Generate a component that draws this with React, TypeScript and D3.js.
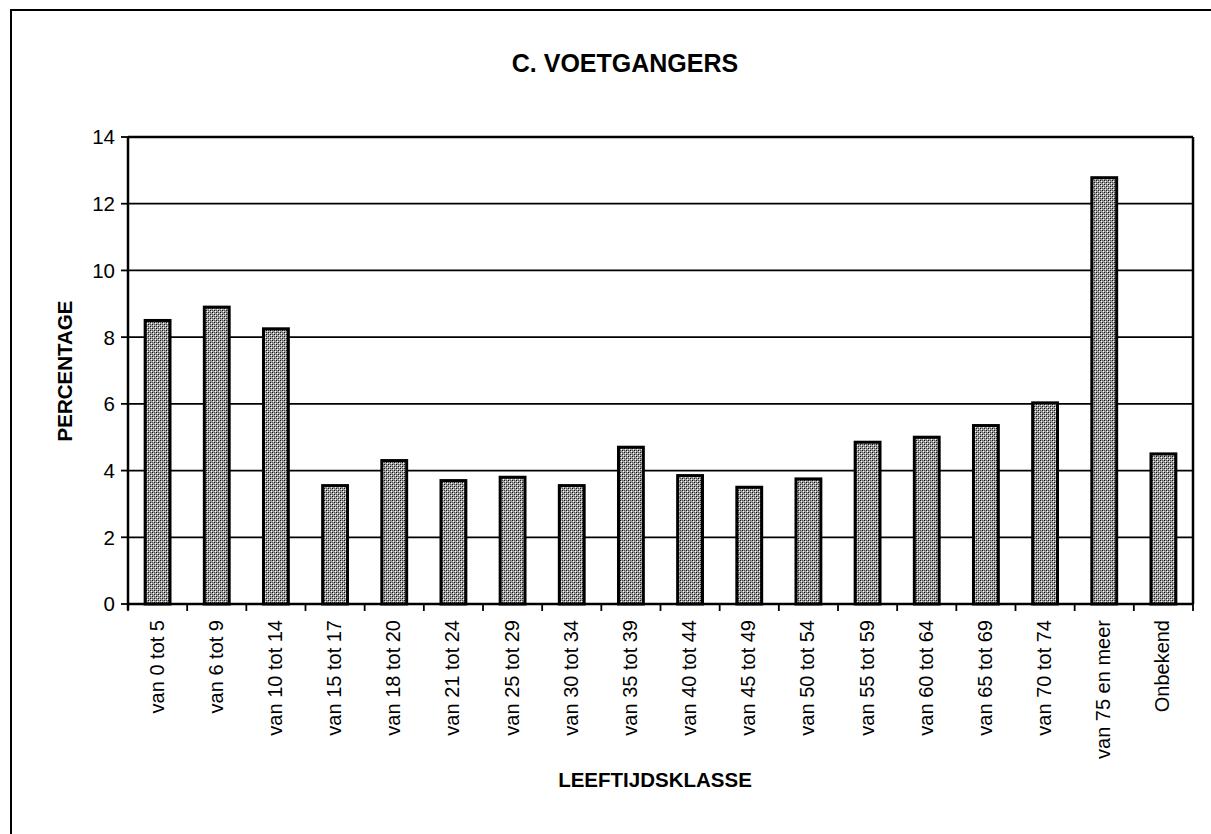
import React from "react";
import * as d3 from "d3";

const categories = [
  "van 0 tot 5", "van 6 tot 9", "van 10 tot 14", "van 15 tot 17", "van 18 tot 20",
  "van 21 tot 24", "van 25 tot 29", "van 30 tot 34", "van 35 tot 39", "van 40 tot 44",
  "van 45 tot 49", "van 50 tot 54", "van 55 tot 59", "van 60 tot 64", "van 65 tot 69",
  "van 70 tot 74", "van 75 en meer", "Onbekend",
];
const values = [8.5, 8.9, 8.25, 3.55, 4.3, 3.7, 3.8, 3.55, 4.7, 3.85, 3.5, 3.75, 4.85, 5.0, 5.35, 6.03, 12.78, 4.5];
const yTicks = [0, 2, 4, 6, 8, 10, 12, 14];

const W = 1211, H = 834;
const m = { left: 128, right: 1193, top: 137, bottom: 604 };
const font = "Liberation Sans, Arial, sans-serif";

export default function App() {
  const x = d3.scaleBand<string>().domain(categories).range([m.left, m.right]).paddingInner(0.58).paddingOuter(0.29);
  const xb = d3.scaleBand<string>().domain(categories).range([m.left, m.right]);
  const y = d3.scaleLinear().domain([0, 14]).range([m.bottom, m.top]);

  return (
    <svg width={W} height={H} style={{ position: "absolute", left: 0, top: 0, background: "#fff" }} fontFamily={font}>
      <defs>
        <pattern id="dots" width="4" height="4" patternUnits="userSpaceOnUse">
          <rect width="4" height="4" fill="#a0a0a0" />
          <rect x="0" y="0" width="1" height="1" fill="#111" />
          <rect x="2" y="2" width="1" height="1" fill="#111" />
          <rect x="1" y="1" width="1" height="1" fill="#fff" />
          <rect x="3" y="3" width="1" height="1" fill="#fff" />
          <rect x="2" y="0" width="1" height="1" fill="#555" />
          <rect x="0" y="2" width="1" height="1" fill="#555" />
        </pattern>
      </defs>
      <rect width={W} height={H} fill="#fff" />
      <path d={`M11,834 V10 H1211`} fill="none" stroke="#000" strokeWidth={2} />
      <text x={625} y={72} textAnchor="middle" fontSize={25} fontWeight="bold">C. VOETGANGERS</text>

      {yTicks.map((t) => (
        <g key={t}>
          <line x1={m.left} x2={m.right} y1={y(t)} y2={y(t)} stroke="#000" strokeWidth={t === 14 || t === 0 ? 2.5 : 1.8} />
          <line x1={m.left - 7} x2={m.left} y1={y(t)} y2={y(t)} stroke="#000" strokeWidth={1.8} />
          <text x={115} y={y(t)} dy="0.36em" textAnchor="end" fontSize={20.5}>{t}</text>
        </g>
      ))}
      <line x1={m.left} x2={m.left} y1={m.top} y2={m.bottom + 6} stroke="#000" strokeWidth={2.5} />
      <line x1={m.right} x2={m.right} y1={m.top} y2={m.bottom} stroke="#000" strokeWidth={2.5} />

      {categories.map((c, i) => (
        <line key={"t" + i} x1={xb(c)!} x2={xb(c)!} y1={m.bottom} y2={m.bottom + 7} stroke="#000" strokeWidth={1.8} />
      ))}
      <line x1={m.right} x2={m.right} y1={m.bottom} y2={m.bottom + 7} stroke="#000" strokeWidth={1.8} />

      {categories.map((c, i) => (
        <rect key={c} x={x(c)!} y={y(values[i])} width={x.bandwidth()} height={m.bottom - y(values[i])}
          fill="url(#dots)" stroke="#000" strokeWidth={3} />
      ))}

      {categories.map((c) => {
        const cx = xb(c)! + xb.bandwidth() / 2;
        return (
          <text key={"l" + c} transform={`translate(${cx + 6},${m.bottom + 16}) rotate(-90)`} textAnchor="end" fontSize={20}>{c}</text>
        );
      })}

      <text transform={`translate(72,${371}) rotate(-90)`} textAnchor="middle" fontSize={20.5} fontWeight="bold">PERCENTAGE</text>
      <text x={655} y={787} textAnchor="middle" fontSize={20.5} fontWeight="bold">LEEFTIJDSKLASSE</text>
    </svg>
  );
}
